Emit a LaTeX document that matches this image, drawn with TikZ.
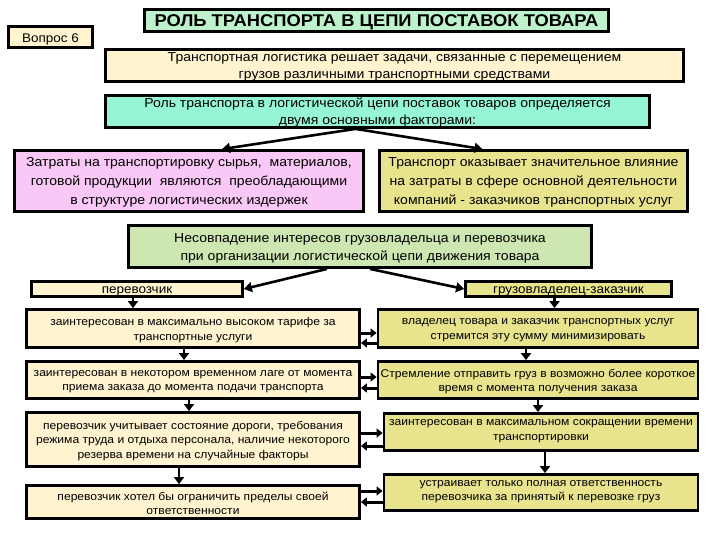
\documentclass[tikz,border=0pt]{standalone}
\usepackage{fontspec}
\setmainfont[FakeStretch=1.08]{Liberation Sans}
\usetikzlibrary{arrows.meta}
\definecolor{titlegreen}{RGB}{190,242,204}
\definecolor{cream}{RGB}{255,243,208}
\definecolor{aqua}{RGB}{150,245,215}
\definecolor{pinkbox}{RGB}{250,200,246}
\definecolor{khaki}{RGB}{232,228,142}
\definecolor{greenbox}{RGB}{206,230,178}
\begin{document}
\begin{tikzpicture}[x=1pt,y=-1pt,
  box/.style={draw=black,line width=2.8pt,inner sep=0pt},
  txt/.style={inner sep=0pt,align=center,text=black},
  bigtxt/.style={txt,font=\fontsize{13}{17}\selectfont},
  midtxt/.style={txt,font=\fontsize{13}{19}\selectfont},
  coltxt/.style={txt,font=\fontsize{11.2}{14.5}\selectfont},
  hdtxt/.style={txt,font=\fontsize{12.5}{14}\selectfont},
  arr/.style={line width=2.6pt,-{Triangle[length=8pt,width=10pt]}},
  harr/.style={line width=3pt,-{Triangle[length=6pt,width=9pt]}},
  varr/.style={line width=2.6pt,-{Triangle[length=7pt,width=10pt]}}
]
\useasboundingbox (0,0) rectangle (720,540);
\fill[white] (0,0) rectangle (720,540);

% boxes
\node[box,fill=cream,minimum width=84pt,minimum height=21pt] (vopros) at (50.5,37) {};
\node[box,fill=titlegreen,minimum width=464pt,minimum height=22pt] (title) at (376.5,20.5) {};
\node[box,fill=cream,minimum width=578pt,minimum height=32pt] (task) at (394.5,65.5) {};
\node[box,fill=aqua,minimum width=544pt,minimum height=32pt] (role) at (377.5,111.5) {};
\node[box,fill=pinkbox,minimum width=349pt,minimum height=61pt] (pink) at (189,181) {};
\node[box,fill=khaki,minimum width=308pt,minimum height=61pt] (yellow) at (533.5,181) {};
\node[box,fill=greenbox,minimum width=463pt,minimum height=42pt] (green) at (360,246.5) {};
\node[box,fill=cream,minimum width=211pt,minimum height=15pt] (perev) at (137,289) {};
\node[box,fill=khaki,minimum width=206pt,minimum height=15pt] (gruz) at (568.5,289) {};
\node[box,fill=cream,minimum width=333pt,minimum height=38pt] (L1) at (193,328.5) {};
\node[box,fill=cream,minimum width=333pt,minimum height=37pt] (L2) at (193,380) {};
\node[box,fill=cream,minimum width=333pt,minimum height=54pt] (L3) at (193,439.5) {};
\node[box,fill=cream,minimum width=333pt,minimum height=33pt] (L4) at (193,502) {};
\node[box,fill=khaki,minimum width=320pt,minimum height=38pt] (R1) at (538,328.5) {};
\node[box,fill=khaki,minimum width=320pt,minimum height=37pt] (R2) at (538,380) {};
\node[box,fill=khaki,minimum width=314pt,minimum height=37pt] (R3) at (541,432) {};
\node[box,fill=khaki,minimum width=314pt,minimum height=36pt] (R4) at (541,492.5) {};

% texts
\node[hdtxt] (voprosT) at ([yshift=-2pt]vopros.center) {Вопрос 6};
\node[txt,font=\bfseries\fontsize{17}{20}\selectfont] (titleT) at ([yshift=-2pt]title.center) {РОЛЬ ТРАНСПОРТА В ЦЕПИ ПОСТАВОК ТОВАРА};
\node[bigtxt] (taskT) at ([yshift=-1.5pt]task.center) {Транспортная логистика решает задачи, связанные с перемещением\\грузов различными транспортными средствами};
\node[bigtxt] (roleT) at ([yshift=-1.5pt]role.center) {Роль транспорта в логистической цепи поставок товаров определяется\\двумя основными факторами:};
\node[midtxt] (pinkT) at ([yshift=-1.5pt]pink.center) {Затраты на транспортировку сырья,\ \ материалов,\\готовой продукции\ \ являются\ \ преобладающими\\в структуре логистических издержек};
\node[midtxt] (yellowT) at ([yshift=-1.5pt]yellow.center) {Транспорт оказывает значительное влияние\\на затраты в сфере основной деятельности\\компаний - заказчиков транспортных услуг};
\node[txt,font=\fontsize{13}{18}\selectfont] (greenT) at ([yshift=-1.5pt]green.center) {Несовпадение интересов грузовладельца и перевозчика\\при организации логистической цепи движения товара};
\node[hdtxt] (perevT) at ([yshift=-2pt]perev.center) {перевозчик};
\node[hdtxt] (gruzT) at ([yshift=-2pt]gruz.center) {грузовладелец-заказчик};
\node[coltxt] (L1T) at ([yshift=-1.5pt]L1.center) {заинтересован в максимально высоком тарифе за\\транспортные услуги};
\node[coltxt] (L2T) at ([yshift=-1.5pt]L2.center) {заинтересован в некотором временном лаге от момента\\приема заказа до момента подачи транспорта};
\node[coltxt] (L3T) at ([yshift=-1.5pt]L3.center) {перевозчик учитывает состояние дороги, требования\\режима труда и отдыха персонала, наличие некоторого\\резерва времени на случайные факторы};
\node[coltxt] (L4T) at ([yshift=-1.5pt]L4.center) {перевозчик хотел бы ограничить пределы своей\\ответственности};
\node[coltxt] (R1T) at ([yshift=-1.5pt]R1.center) {владелец товара и заказчик транспортных услуг\\стремится эту сумму минимизировать};
\node[coltxt] (R2T) at ([yshift=-1.5pt]R2.center) {Стремление отправить груз в возможно более короткое\\время с момента получения заказа};
\node[coltxt] (R3T) at ([yshift=1pt]R3.center) {заинтересован в максимальном сокращении времени\\транспортировки};
\node[coltxt] (R4T) at ([yshift=1pt]R4.center) {устраивает только полная ответственность\\перевозчика за принятый к перевозке груз};

% arrows from role
\draw[arr] ([xshift=-22pt]role.south) -- ([xshift=33pt]pink.north);
\draw[arr] ([xshift=-22pt]role.south) -- ([xshift=-51pt]yellow.north);
% arrows from green
\draw[arr] ([xshift=-33pt]green.south) -- (perev.east);
\draw[arr] ([xshift=10pt]green.south) -- (gruz.west);

% vertical arrows left
\draw[varr] ([xshift=-4pt]perev.south) -- ([xshift=-4pt]perev.south |- L1.north);
\draw[varr] ([xshift=-9pt]L1.south) -- ([xshift=-9pt]L2.north);
\draw[varr] ([xshift=-4pt]L2.south) -- ([xshift=-4pt]L3.north);
\draw[varr] ([xshift=-14pt]L3.south) -- ([xshift=-14pt]L4.north);
% vertical arrows right
\draw[varr] ([xshift=-14pt]gruz.south) -- ([xshift=-14pt]gruz.south |- R1.north);
\draw[varr] ([xshift=-12pt]R1.south) -- ([xshift=-12pt]R2.north);
\draw[varr] ([xshift=0pt]R2.south) -- ([xshift=-3pt]R3.north);
\draw[varr] ([xshift=4pt]R3.south) -- ([xshift=4pt]R4.north);

% horizontal double arrows
\draw[harr] ([yshift=-4.5pt]L1.east) -- ([yshift=-4.5pt]L1.east -| R1.west);
\draw[harr] ([yshift=-14.5pt]R1.west) -- ([yshift=-14.5pt]R1.west -| L1.east);
\draw[harr] ([yshift=3pt]L2.east) -- ([yshift=3pt]L2.east -| R2.west);
\draw[harr] ([yshift=-8pt]R2.west) -- ([yshift=-8pt]R2.west -| L2.east);
\draw[harr] ([yshift=6.5pt]L3.east) -- ([yshift=6.5pt]L3.east -| R3.west);
\draw[harr] ([yshift=-6.5pt]L3.east -| R3.west) -- ([yshift=-6.5pt]L3.east);
\draw[harr] ([yshift=11pt]L4.east) -- ([yshift=11pt]L4.east -| R4.west);
\draw[harr] (L4.east -| R4.west) -- (L4.east);
\end{tikzpicture}
\end{document}
